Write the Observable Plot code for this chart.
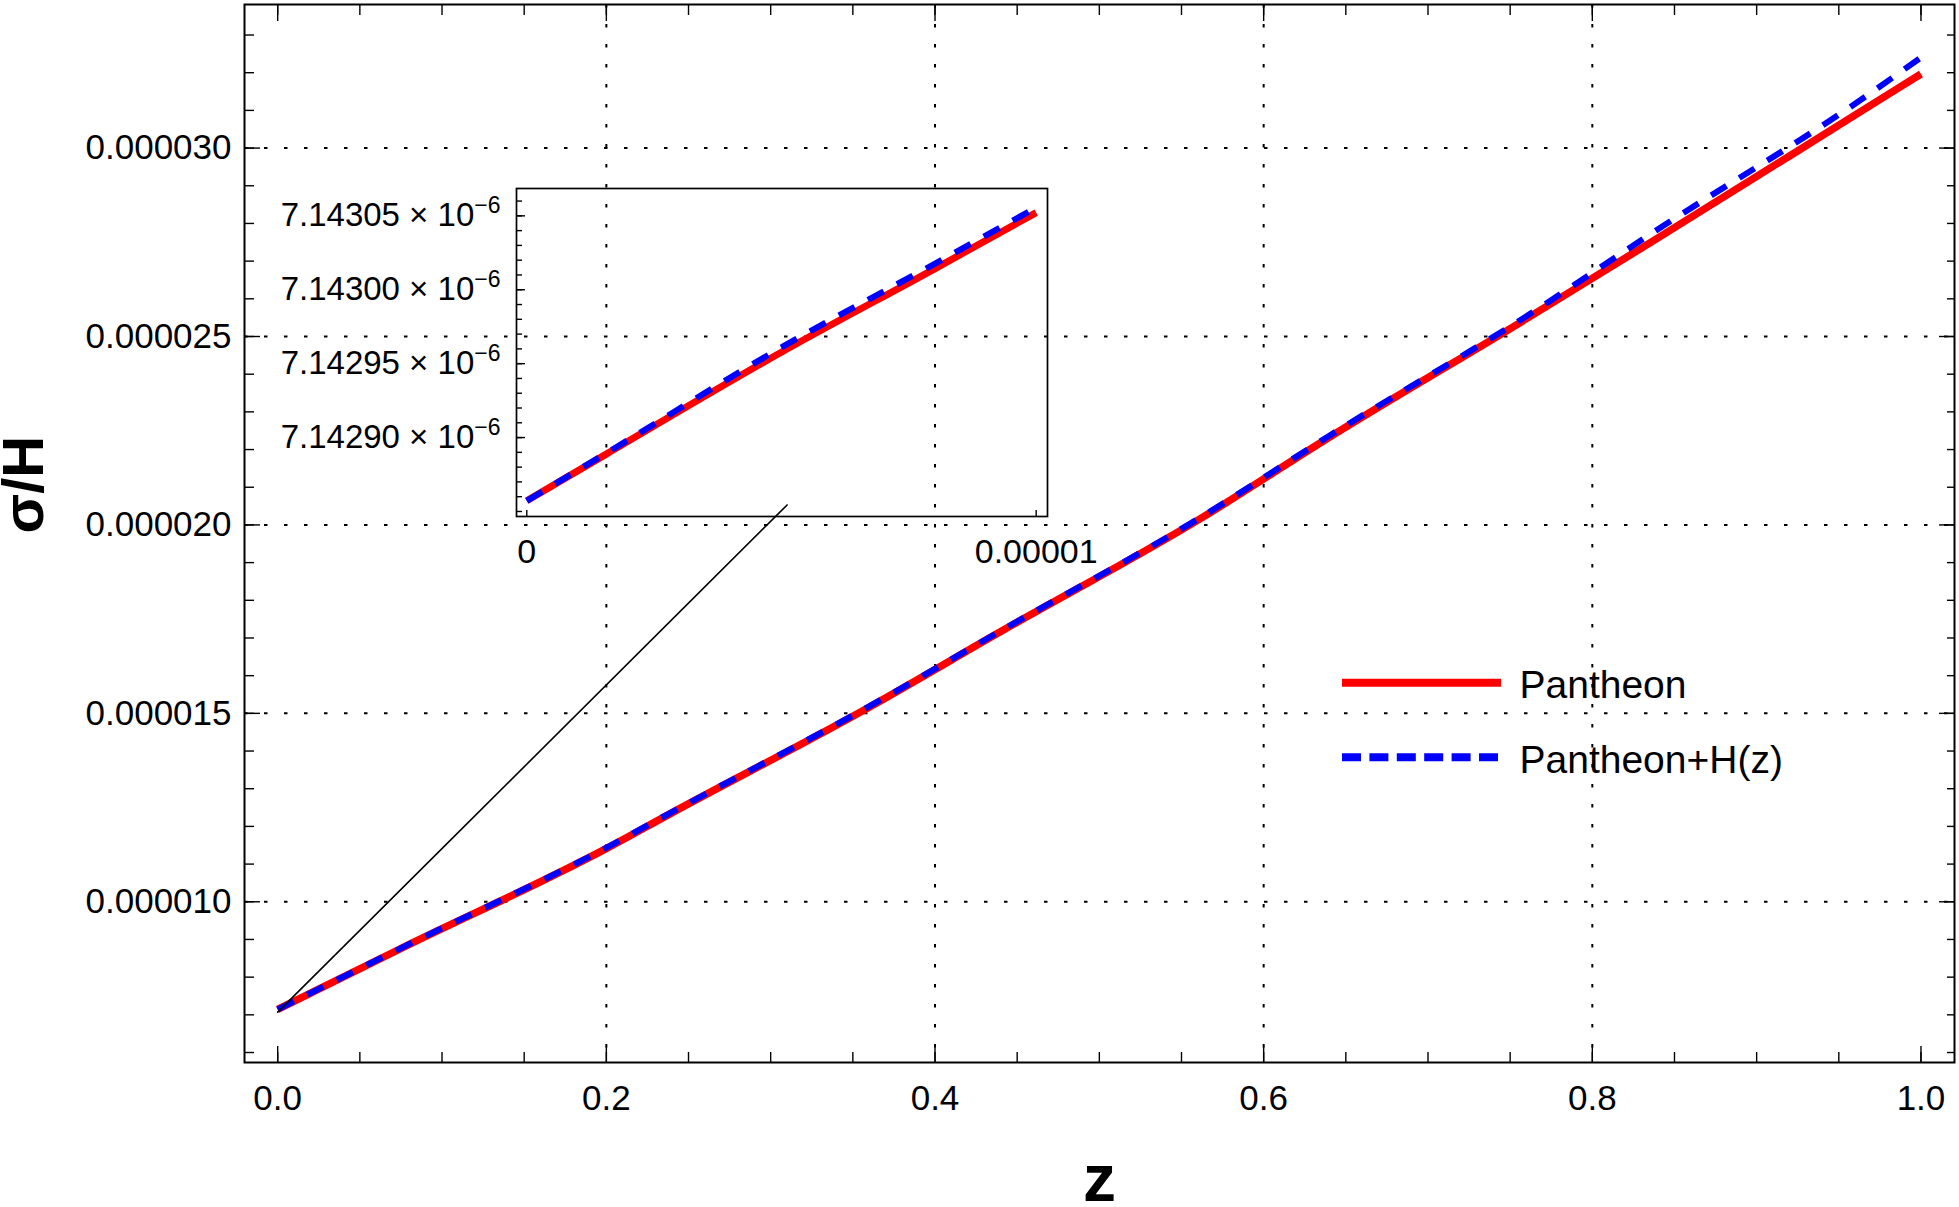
<!DOCTYPE html>
<html><head><meta charset="utf-8">
<script src="https://cdn.jsdelivr.net/npm/d3@7"></script>
<script src="https://cdn.jsdelivr.net/npm/@observablehq/plot@0.6"></script>
<style>
html,body{margin:0;padding:0;background:#fff;}
#wrap{position:relative;width:1959px;height:1207px;font-family:"Liberation Sans",Arial,Helvetica,sans-serif;}
#wrap svg{max-width:none;}
.abs{position:absolute;}
</style></head><body><div id="wrap"></div>
<script>
// ---- data ----
const z = [0, 0.075, 0.199, 0.239, 0.361, 0.440, 0.562, 0.639, 0.761, 0.839, 0.961, 1.0];
const pantheon   = [7.1429e-6, 8.76e-6, 1.139e-5, 1.234e-5, 1.519e-5, 1.717e-5, 2.018e-5, 2.230e-5, 2.550e-5, 2.759e-5, 3.0906e-5, 3.1966e-5];
const pantheonHz = [7.1429e-6, 8.77e-6, 1.141e-5, 1.236e-5, 1.521e-5, 1.719e-5, 2.021e-5, 2.234e-5, 2.557e-5, 2.782e-5, 3.121e-5, 3.2405e-5];

const insetZ = [0, 0.156e-5, 0.5048e-5, 0.8024e-5, 1e-5];
const insetPantheon   = [7.1428572e-6, 7.1428888e-6, 7.1429587e-6, 7.1430145e-6, 7.1430522e-6];
const insetPantheonHz = [7.1428572e-6, 7.1428894e-6, 7.1429620e-6, 7.1430179e-6, 7.1430556e-6];

const connectorZ = [0, 0.31];
const connectorV = [7.07e-6, 2.053e-5];

const seriesNames = ["Pantheon", "Pantheon+H(z)"];
const xLabel = "z";
const yLabel = "σ/H";

const xTicks = [0, 0.2, 0.4, 0.6, 0.8, 1.0];
const xTickLabels = ["0.0", "0.2", "0.4", "0.6", "0.8", "1.0"];
const yTicks = [1e-5, 1.5e-5, 2e-5, 2.5e-5, 3e-5];
const yTickLabels = ["0.000010", "0.000015", "0.000020", "0.000025", "0.000030"];
const insetXTicks = [0, 1e-5];
const insetXTickLabels = ["0", "0.00001"];
const insetYTicks = [7.1429e-6, 7.14295e-6, 7.143e-6, 7.14305e-6];
const insetYMantissas = ["7.14290", "7.14295", "7.14300", "7.14305"];
const insetYExponent = "−6";

// minor tick positions
const xMinor = d3.range(0, 21).map(i => i * 0.05);
const yMinor = d3.range(6, 34).map(i => i * 1e-6);
const insetYMinor = d3.range(5, 27).map(i => 7.1428e-6 + i * 1e-11);

// ---- tables ----
const red = z.map((d, i) => ({z: d, v: pantheon[i]}));
const blue = z.map((d, i) => ({z: d, v: pantheonHz[i]}));
const ired = insetZ.map((d, i) => ({z: d, v: insetPantheon[i]}));
const iblue = insetZ.map((d, i) => ({z: d, v: insetPantheonHz[i]}));
const conn = connectorZ.map((d, i) => ({z: d, v: connectorV[i]}));

const FONT = '"Liberation Sans", Arial, Helvetica, sans-serif';
const RED = "#ff0000", BLUE = "#0000ff";
const gridStyle = {stroke: "black", strokeOpacity: 1, strokeWidth: 2, strokeDasharray: "3.5,16.5"};
const tickStyle = {stroke: "black", strokeWidth: 1.4, tickFormat: () => "", label: null};

const main = Plot.plot({
  width: 1959, height: 1207,
  marginLeft: 244, marginRight: 5, marginTop: 4, marginBottom: 145,
  style: {fontFamily: FONT, background: "white", overflow: "visible", color: "black"},
  x: {domain: [-0.0202, 1.0204], label: null},
  y: {domain: [5.735e-6, 3.381e-5], label: null},
  marks: [
    Plot.gridX(xTicks.filter(d => d > 0 && d < 1), gridStyle),
    Plot.gridY(yTicks, gridStyle),
    Plot.line(red, {x: "z", y: "v", stroke: RED, strokeWidth: 7.5, curve: "monotone-x", strokeLinecap: "butt"}),
    Plot.line(blue, {x: "z", y: "v", stroke: BLUE, strokeWidth: 6, strokeDasharray: "18,15", curve: "monotone-x", strokeLinecap: "butt"}),
    Plot.line(conn, {x: "z", y: "v", stroke: "black", strokeWidth: 1.6}),
    Plot.frame({stroke: "black", strokeWidth: 2}),
    // ticks (inward)
    Plot.axisX(xMinor, {anchor: "bottom", tickSize: -10, ...tickStyle}),
    Plot.axisX(xTicks, {anchor: "bottom", tickSize: -16, ...tickStyle}),
    Plot.axisX(xMinor, {anchor: "top", tickSize: -10, ...tickStyle}),
    Plot.axisX(xTicks, {anchor: "top", tickSize: -16, ...tickStyle}),
    Plot.axisY(yMinor, {anchor: "left", tickSize: -10, ...tickStyle}),
    Plot.axisY(yTicks, {anchor: "left", tickSize: -16, ...tickStyle}),
    Plot.axisY(yMinor, {anchor: "right", tickSize: -8, ...tickStyle}),
    Plot.axisY(yTicks, {anchor: "right", tickSize: -16, ...tickStyle}),
    // labels
    Plot.axisX(xTicks, {anchor: "bottom", tickSize: 0, tickPadding: 22.6, fontSize: 35, label: null,
      tickFormat: d => xTickLabels[xTicks.indexOf(d)]}),
    Plot.axisY(yTicks, {anchor: "left", tickSize: 0, tickPadding: 13, fontSize: 35, label: null,
      tickFormat: d => yTickLabels[yTicks.indexOf(d)]}),
    Plot.text([yLabel], {frameAnchor: "left", dx: -220, rotate: -90, fontSize: 58, fontWeight: "bold", fill: "black"}),
    Plot.text([xLabel], {frameAnchor: "bottom", dy: 138, fontSize: 66, fontWeight: "bold", fill: "black"})
  ]
});
main.classList.add("abs");
main.style.left = "0px"; main.style.top = "0px";
document.getElementById("wrap").appendChild(main);

// ---- inset ----
const inset = Plot.plot({
  width: 800, height: 400,
  marginLeft: 256, marginRight: 13, marginTop: 18, marginBottom: 54,
  style: {fontFamily: FONT, background: "transparent", overflow: "visible", color: "black"},
  x: {domain: [-0.0202e-5, 1.0222e-5], label: null},
  y: {domain: [7.1428466e-6, 7.1430685e-6], label: null},
  marks: [
    Plot.line(ired, {x: "z", y: "v", stroke: RED, strokeWidth: 7, curve: "monotone-x", strokeLinecap: "butt"}),
    Plot.line(iblue, {x: "z", y: "v", stroke: BLUE, strokeWidth: 6, strokeDasharray: "18,15", curve: "monotone-x", strokeLinecap: "butt"}),
    Plot.frame({stroke: "black", strokeWidth: 1.7}),
    Plot.axisY(insetYMinor, {anchor: "left", tickSize: -6, ...tickStyle}),
    Plot.axisY(insetYTicks, {anchor: "left", tickSize: -9, ...tickStyle}),
    Plot.axisX(insetXTicks, {anchor: "bottom", tickSize: -6, ...tickStyle}),
    Plot.axisX(insetXTicks, {anchor: "bottom", tickSize: 0, tickPadding: 22.4, fontSize: 34, label: null,
      tickFormat: d => insetXTickLabels[insetXTicks.indexOf(d)]}),
    Plot.axisY(insetYTicks, {anchor: "left", tickSize: 0, tickPadding: 16, fontSize: 33, label: null,
      tickFormat: d => insetYMantissas[insetYTicks.indexOf(d)]})
  ]
});
inset.classList.add("abs");
inset.style.left = "260px"; inset.style.top = "170px";
document.getElementById("wrap").appendChild(inset);

// superscript exponents on inset y labels
inset.querySelectorAll("text").forEach(node => {
  const m = (node.textContent || "").trim();
  if (!insetYMantissas.includes(m)) return;
  while (node.firstChild) node.removeChild(node.firstChild);
  const ns = "http://www.w3.org/2000/svg";
  const a = document.createElementNS(ns, "tspan");
  a.textContent = m + " × 10";
  const b = document.createElementNS(ns, "tspan");
  b.setAttribute("dy", "-13");
  b.setAttribute("font-size", "23");
  b.textContent = insetYExponent;
  node.appendChild(a); node.appendChild(b);
});

// ---- legend ----
const lg = d3.select("#wrap").append("svg").attr("class", "abs")
  .style("left", "1342px").style("top", "640px")
  .attr("width", 520).attr("height", 160)
  .style("font-family", FONT);
const legendItems = [
  {name: seriesNames[0], color: RED, dash: null},
  {name: seriesNames[1], color: BLUE, dash: "19,8.4"}
];
legendItems.forEach((it, i) => {
  const y = 42.7 + i * 74.6;
  lg.append("line").attr("x1", 0).attr("x2", 159).attr("y1", y).attr("y2", y)
    .attr("stroke", it.color).attr("stroke-width", 8).attr("stroke-dasharray", it.dash);
  lg.append("text").attr("x", 177.5).attr("y", y + 15.3).attr("font-size", 39).attr("fill", "black").text(it.name);
});
</script>
</body></html>
